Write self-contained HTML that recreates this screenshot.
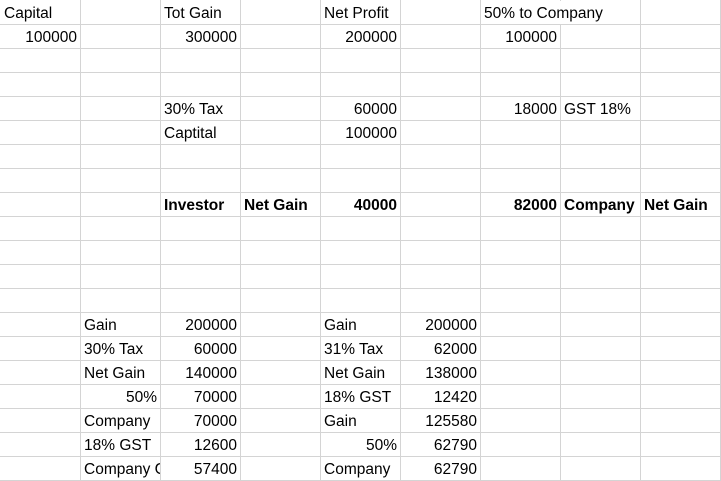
<!DOCTYPE html>
<html><head><meta charset="utf-8"><style>
html,body{margin:0;padding:0;background:#fff;}
#sheet{position:relative;width:721px;height:481px;overflow:hidden;background:#fff;font-family:"Liberation Sans",sans-serif;font-size:15.5px;color:#000;}
.vl{position:absolute;top:0;width:1px;height:481px;background:#d4d4d4;}
.hl{position:absolute;left:0;height:1px;width:721px;background:#d4d4d4;}
.c{position:absolute;height:23px;line-height:26px;white-space:nowrap;overflow:hidden;padding:0 3px;box-sizing:border-box;background:transparent;}
.r{text-align:right;}
.b{font-weight:bold;}
.ov{background:#fff;overflow:visible;z-index:2;}
</style></head><body>
<div id="sheet"></div>
<script>
const sheet=document.getElementById('sheet');
for(let i=1;i<=9;i++){const d=document.createElement('div');d.className='vl';d.style.left=(i*80)+'px';


sheet.appendChild(d);}
for(let j=1;j<=20;j++){const d=document.createElement('div');d.className='hl';d.style.top=(j*24)+'px';


sheet.appendChild(d);}
// [row, col, text, align, bold, spanCols]
const cells=[
[0,0,'Capital','l',0,1],[0,2,'Tot Gain','l',0,1],[0,4,'Net Profit','l',0,1],[0,6,'50% to Company','l',0,2],
[1,0,'100000','r',0,1],[1,2,'300000','r',0,1],[1,4,'200000','r',0,1],[1,6,'100000','r',0,1],
[4,2,'30% Tax','l',0,1],[4,4,'60000','r',0,1],[4,6,'18000','r',0,1],[4,7,'GST 18%','l',0,1],
[5,2,'Captital','l',0,1],[5,4,'100000','r',0,1],
[8,2,'Investor','l',1,1],[8,3,'Net Gain','l',1,1],[8,4,'40000','r',1,1],[8,6,'82000','r',1,1],[8,7,'Company','l',1,1],[8,8,'Net Gain','l',1,1],
[13,1,'Gain','l',0,1],[13,2,'200000','r',0,1],[13,4,'Gain','l',0,1],[13,5,'200000','r',0,1],
[14,1,'30% Tax','l',0,1],[14,2,'60000','r',0,1],[14,4,'31% Tax','l',0,1],[14,5,'62000','r',0,1],
[15,1,'Net Gain','l',0,1],[15,2,'140000','r',0,1],[15,4,'Net Gain','l',0,1],[15,5,'138000','r',0,1],
[16,1,'50%','r',0,1],[16,2,'70000','r',0,1],[16,4,'18% GST','l',0,1],[16,5,'12420','r',0,1],
[17,1,'Company','l',0,1],[17,2,'70000','r',0,1],[17,4,'Gain','l',0,1],[17,5,'125580','r',0,1],
[18,1,'18% GST','l',0,1],[18,2,'12600','r',0,1],[18,4,'50%','r',0,1],[18,5,'62790','r',0,1],
[19,1,'Company Gain','l',0,1],[19,2,'57400','r',0,1],[19,4,'Company','l',0,1],[19,5,'62790','r',0,1]
];
cells.forEach(([r,c,t,a,b,s])=>{
  const d=document.createElement('div');
  d.className='c'+(a==='r'?' r':'')+(b?' b':'')+(s>1?' ov':'');
  d.style.left=(c*80+1)+'px';
  d.style.top=(r*24+1)+'px';
  d.style.width=(s*80-1)+'px';
  if(c===1&&r===19){d.style.paddingRight='0';}
  d.textContent=t;
  
  
  sheet.appendChild(d);
});
</script>
</body></html>
